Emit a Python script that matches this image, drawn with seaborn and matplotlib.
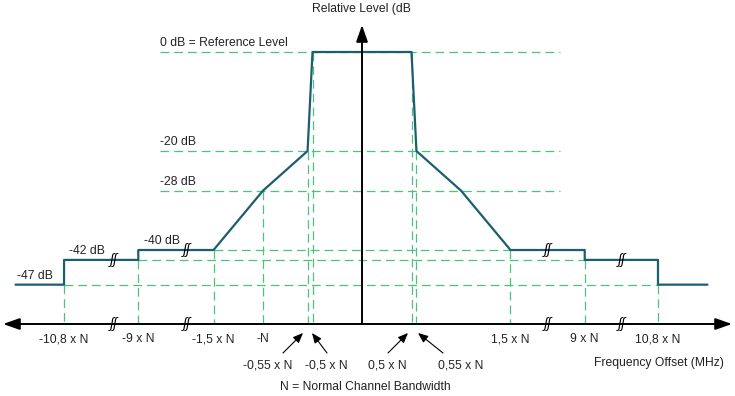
import numpy as np
import pandas as pd
import matplotlib
matplotlib.use("Agg")
import matplotlib.pyplot as plt
import matplotlib.transforms as mtransforms
import seaborn as sns

# Spectrum mask: offset in multiples of N, level in dB
mask_offset = [-12.3, -10.8, -10.8, -9, -9, -1.5, -1, -0.55, -0.5,
               0.5, 0.55, 1, 1.5, 9, 9, 10.8, 10.8, 12.3]
mask_level = [-47, -47, -42, -42, -40, -40, -28, -20, 0,
              0, -20, -28, -40, -40, -42, -42, -47, -47]

# Level labels
level_values = [0, -20, -28, -40, -42, -47]
level_labels = ["0 dB = Reference Level", "-20 dB", "-28 dB", "-40 dB", "-42 dB", "-47 dB"]

# Frequency axis labels
tick_offsets = [-10.8, -9, -1.5, -1, 1.5, 9, 10.8]
tick_labels = ["-10,8 x N", "-9 x N", "-1,5 x N", "-N", "1,5 x N", "9 x N", "10,8 x N"]
near_offsets = [-0.55, -0.5, 0.5, 0.55]
near_labels = ["-0,55 x N", "-0,5 x N", "0,5 x N", "0,55 x N"]

# Where the axis is broken
break_offsets = [-9.6, -4.15, 5.3, 9.9]

MASK = "#1b5e6e"
GUIDE = "#4cc27e"
TXT = "#222222"
W, H = 735, 396

df = pd.DataFrame({"offset": mask_offset, "level": mask_level})

sns.set_theme(style="white")
plt.rcParams["font.family"] = ["Liberation Sans", "DejaVu Sans"]
plt.rcParams["font.size"] = 8.7

fig = plt.figure(figsize=(W / 100, H / 100), dpi=100)
ax = fig.add_axes([0, 0, 1, 1])

# broken (schematic) frequency scale
real_knots = [-30, -12.3, -10.8, -9, -1.5, 1.5, 9, 10.8, 12.3, 30]
draw_knots = [-9.4, -3.5, -3.01, -2.26, -1.5, 1.5, 2.25, 2.99, 3.49, 9.4]
ax.set_xscale("function", functions=(lambda v: np.interp(v, real_knots, draw_knots),
                                     lambda v: np.interp(v, draw_knots, real_knots)))
ax.set_xlim(np.interp(-3.657, draw_knots, real_knots), np.interp(3.768, draw_knots, real_knots))
ax.set_ylim(-69.49, 10.505)
ax.axis("off")

def fx(x):
    return x / W

def fy(y):
    return 1 - y / H

axis_level = -54.95
blend = mtransforms.blended_transform_factory(ax.transAxes, ax.transData)
dash = dict(color=GUIDE, lw=0.9, dashes=(7, 4), zorder=1, snap=True)

# horizontal guides
for lev in [0, -20, -28]:
    ax.plot([fx(160), fx(560)], [lev, lev], transform=blend, **dash)
for lev, span in [(-40, 1.5), (-42, 9), (-47, 10.8)]:
    ax.plot([-span, span], [lev, lev], **dash)

# vertical guides from the mask down to the axis
drops = df.groupby("offset")["level"].min()
for off in tick_offsets + near_offsets:
    ax.plot([off, off], [drops[off], axis_level], **dash)

# mask
sns.lineplot(data=df, x="offset", y="level", sort=False, estimator=None,
             color=MASK, lw=1.6, ax=ax, zorder=3)

# axes with arrows
ax.annotate("", xy=(fx(732), fy(324)), xytext=(fx(3), fy(324)), xycoords="axes fraction",
            arrowprops=dict(arrowstyle="<|-|>,head_length=1.0,head_width=0.35",
                            color="black", lw=1.4, mutation_scale=10, shrinkA=0, shrinkB=0))
ax.annotate("", xy=(0, 5.45), xytext=(0, axis_level),
            arrowprops=dict(arrowstyle="-|>,head_length=1.0,head_width=0.35",
                            color="black", lw=1.4, mutation_scale=10, shrinkA=0, shrinkB=0))

# break marks
for off in break_offsets:
    lev = -42 if abs(off) > 9 else -40
    for yy in [lev, axis_level]:
        ax.text(off, yy, "ʃʃ", ha="center", va="center", fontsize=10, style="italic",
                color="black", zorder=5)

# level labels
lefts = [160, 160, 160, 144, 69, 17]
for lev, lab, lx in zip(level_values, level_labels, lefts):
    ax.annotate(lab, xy=(fx(lx), lev), xycoords=blend, xytext=(0, 6.5),
                textcoords="offset points", ha="left", va="center", color=TXT)

# tick labels
for off, lab in zip(tick_offsets, tick_labels):
    ax.annotate(lab, xy=(off, axis_level), xytext=(0, -10.8), textcoords="offset points",
                ha="center", va="center", color=TXT)

near_centres = [268, 326, 387, 461]
arrows = [((283, 353), (303, 333)), ((327, 353), (312, 333)),
          ((388, 353), (408, 333)), ((443, 353), (418, 333))]
for lab, cx, (tail, head) in zip(near_labels, near_centres, arrows):
    ax.text(fx(cx), fy(366), lab, transform=ax.transAxes, ha="center", va="center",
            color=TXT)
    ax.annotate("", xy=(fx(head[0]), fy(head[1])), xytext=(fx(tail[0]), fy(tail[1])),
                xycoords="axes fraction",
                arrowprops=dict(arrowstyle="-|>,head_length=0.6,head_width=0.25",
                                color="black", lw=0.8, mutation_scale=10,
                                shrinkA=0, shrinkB=0))

ax.text(fx(361), fy(9), "Relative Level (dB", transform=ax.transAxes, ha="center",
        va="center", color=TXT)
ax.text(fx(659), fy(363), "Frequency Offset (MHz)", transform=ax.transAxes, ha="center",
        va="center", color=TXT)
ax.text(fx(365), fy(387), "N = Normal Channel Bandwidth", transform=ax.transAxes,
        ha="center", va="center", color=TXT)

fig.savefig("out.png", dpi=100)
